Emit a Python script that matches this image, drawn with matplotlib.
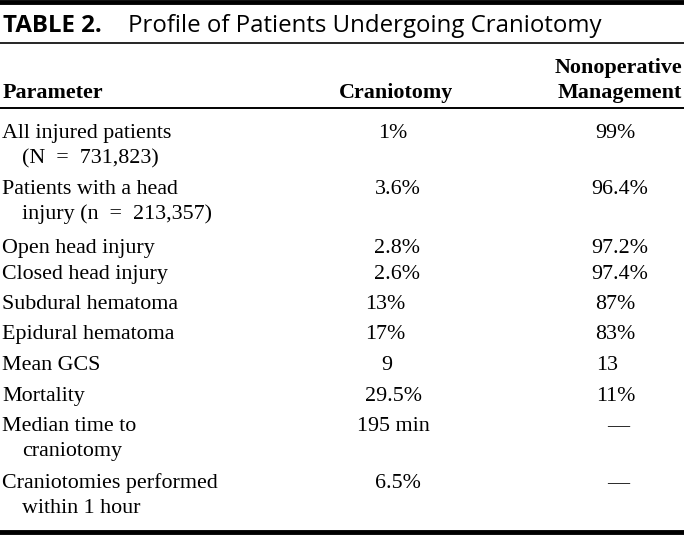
import matplotlib

matplotlib.use("Agg")
import matplotlib.pyplot as plt

TITLE_LABEL = "TABLE 2."
TITLE_TEXT = "Profile of Patients Undergoing Craniotomy"

header_param = "Parameter"
header_cran = "Craniotomy"
header_nonop = ["Nonoperative", "Management"]

# each parameter may wrap onto a second, indented line
parameters = [
    ["All injured patients", "(N  =  731,823)"],
    ["Patients with a head", "injury (n  =  213,357)"],
    ["Open head injury"],
    ["Closed head injury"],
    ["Subdural hematoma"],
    ["Epidural hematoma"],
    ["Mean GCS"],
    ["Mortality"],
    ["Median time to", "craniotomy"],
    ["Craniotomies performed", "within 1 hour"],
]
craniotomy = ["1%", "3.6%", "2.8%", "2.6%", "13%", "17%", "9", "29.5%", "195 min", "6.5%"]
nonoperative = ["99%", "96.4%", "97.2%", "97.4%", "87%", "83%", "13", "11%", "\u2014", "\u2014"]

# layout (pixels)
W, H = 684, 535
row_baselines = [138, 194, 253, 279, 309, 339, 370, 401, 431, 488]
wrap_step = 25
cran_center = [393, 398, 397, 397, 385, 385, 387, 393, 393, 398]
nonop_center = [615, 620, 620, 620, 615, 615, 607, 616, 618, 618]

SERIF = ["Liberation Serif", "DejaVu Serif"]
SANS = ["Open Sans", "DejaVu Sans"]
BODY_SIZE = 15.8

fig = plt.figure(figsize=(W / 100, H / 100), dpi=100)
ax = fig.add_axes([0, 0, 1, 1])
ax.set_xlim(0, W)
ax.set_ylim(H, 0)
ax.axis("off")

# rules
ax.axhline(2, color="black", linewidth=3.5)
ax.axhline(43, color="black", linewidth=1.2)
ax.axhline(108, color="black", linewidth=1.4)
ax.axhline(532, color="black", linewidth=3.5)

# title
ax.text(3, 32, TITLE_LABEL, family=SANS, fontsize=17.3, weight="bold", va="baseline")
ax.text(128, 32, TITLE_TEXT, family=SANS, fontsize=17.3, va="baseline")

# header
ax.text(3, 98, header_param, family=SERIF, fontsize=BODY_SIZE, weight="bold", va="baseline")
ax.text(396, 98, header_cran, family=SERIF, fontsize=BODY_SIZE, weight="bold", va="baseline", ha="center")
ax.text(682, 73, header_nonop[0], family=SERIF, fontsize=BODY_SIZE, weight="bold", va="baseline", ha="right")
ax.text(682, 98, header_nonop[1], family=SERIF, fontsize=BODY_SIZE, weight="bold", va="baseline", ha="right")

# body
for i, lines in enumerate(parameters):
    y = row_baselines[i]
    ax.text(2, y, lines[0], family=SERIF, fontsize=BODY_SIZE, va="baseline")
    for k, extra in enumerate(lines[1:], start=1):
        ax.text(22, y + k * wrap_step, extra, family=SERIF, fontsize=BODY_SIZE, va="baseline")
    ax.text(cran_center[i], y, craniotomy[i], family=SERIF, fontsize=BODY_SIZE, va="baseline", ha="center")
    ax.text(nonop_center[i], y, nonoperative[i], family=SERIF, fontsize=BODY_SIZE, va="baseline", ha="center")

fig.savefig("out.png", dpi=100)
